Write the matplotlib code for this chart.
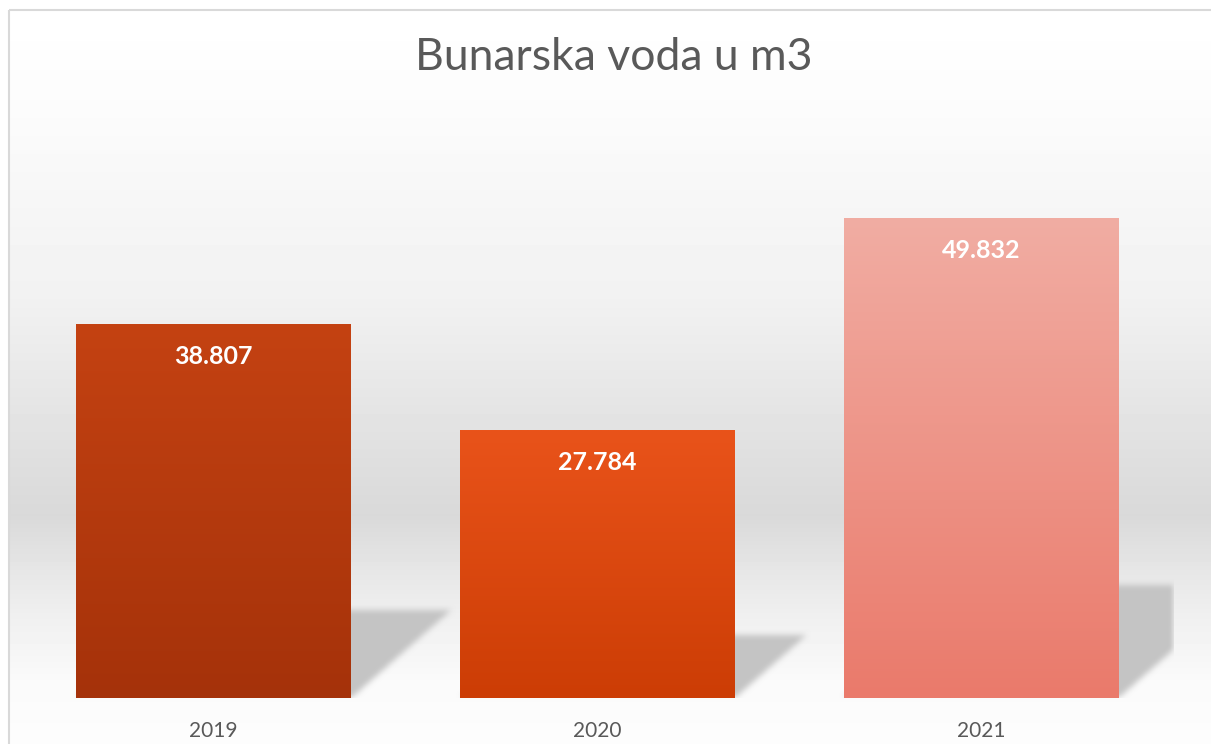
import numpy as np
import matplotlib
matplotlib.use("Agg")
import matplotlib.pyplot as plt
from matplotlib.patches import Rectangle
from matplotlib.colors import to_rgb

# podaci
godine = ["2019", "2020", "2021"]
kubici = [38807, 27784, 49832]
oznake = ["38.807", "27.784", "49.832"]
boje_vrh = ["#c44212", "#e9531a", "#f1ada3"]
boje_dno = ["#a5320a", "#cc3d05", "#ea7a6b"]

W, H = 1211, 744
plt.rcParams["font.family"] = ["Lato", "DejaVu Sans"]
fig = plt.figure(figsize=(W / 100, H / 100), dpi=100)

# pozadina (siva gradijentna traka kao u Excelu)
bg = fig.add_axes([0, 0, 1, 1])
bg.axis("off")
stops_y = [11, 100, 300, 380, 450, 515, 570, 613, 680, 744]
stops_v = [255, 252, 241, 232, 224, 217, 230, 239, 250, 253]
yy = np.arange(11, H) + 0.5
grad = np.interp(yy, stops_y, stops_v) / 255
grad = np.tile(grad[:, None], (1, W - 10))
bg.imshow(grad, cmap="gray", vmin=0, vmax=1, extent=[10, W, H, 11],
          aspect="auto", interpolation="nearest")
bg.add_patch(Rectangle((9, 10), W + 20, H + 20, fill=False, ec="#d9d9d9", lw=1.5))
bg.set_xlim(0, W)
bg.set_ylim(H, 0)

# glavni graf
ax = fig.add_axes([21.5 / W, 46 / H, 1152 / W, 578 / H])
ax.patch.set_visible(False)
for s in ax.spines.values():
    s.set_visible(False)
ax.set_xticks([])
ax.set_yticks([])
XMIN, XMAX, YMAX = -0.5, 2.5, 60000
sirina = 0.716

# sjene iza stupaca (perspektiva)
visina_sjene = 0.235
pomak_sjene = 0.67e-5
nx, ny = 1152, 578
xs = np.linspace(XMIN, XMAX, nx)
ys = np.linspace(0, YMAX, ny)
X, Y = np.meshgrid(xs, ys)
k = pomak_sjene / visina_sjene
maska = np.zeros_like(X)
for i, v in enumerate(kubici):
    xl, xr = i - sirina / 2, i + sirina / 2
    xp = X - Y * k
    unutra = (Y >= 0) & (Y <= visina_sjene * v) & (xp >= xl) & (xp <= xr)
    maska[unutra] = 1.0


def zamuti(a, r):
    jezgra = np.ones(2 * r + 1) / (2 * r + 1)
    a = np.apply_along_axis(lambda m: np.convolve(m, jezgra, mode="same"), 0, a)
    a = np.apply_along_axis(lambda m: np.convolve(m, jezgra, mode="same"), 1, a)
    return a


maska = zamuti(zamuti(maska, 3), 3)
sjena = np.zeros((ny, nx, 4))
sjena[..., :3] = 0.77
sjena[..., 3] = maska
ax.imshow(sjena, extent=[XMIN, XMAX, 0, YMAX], origin="lower", aspect="auto",
          zorder=1, interpolation="nearest")

# stupci s gradijentom
stupci = ax.bar(range(len(kubici)), kubici, width=sirina, color="none", zorder=2)
for i, (st, v) in enumerate(zip(stupci, kubici)):
    t = np.linspace(0, 1, 200)[:, None]
    c0 = np.array(to_rgb(boje_vrh[i]))
    c1 = np.array(to_rgb(boje_dno[i]))
    slika = (c0 * (1 - t) + c1 * t)[:, None, :]
    slika = np.repeat(slika, 4, axis=1)
    im = ax.imshow(slika, extent=[st.get_x(), st.get_x() + st.get_width(), 0, v],
                   aspect="auto", zorder=2, interpolation="bilinear")
    im.set_clip_path(st)
    ax.annotate(oznake[i], (i, v), xytext=(0, -40 * 0.72), textcoords="offset points",
                ha="center", va="baseline", color="white", fontweight="bold", fontsize=18)
    ax.annotate(godine[i], (i, 0), xytext=(0, -39 * 0.72), textcoords="offset points",
                ha="center", va="baseline", color="#595959", fontsize=15,
                annotation_clip=False)

ax.set_xlim(XMIN, XMAX)
ax.set_ylim(0, YMAX)

fig.text(614 / W, 1 - 70 / H, "Bunarska voda u m3", ha="center", va="baseline",
         fontsize=32, color="#595959")

fig.savefig("out.png", dpi=100)
